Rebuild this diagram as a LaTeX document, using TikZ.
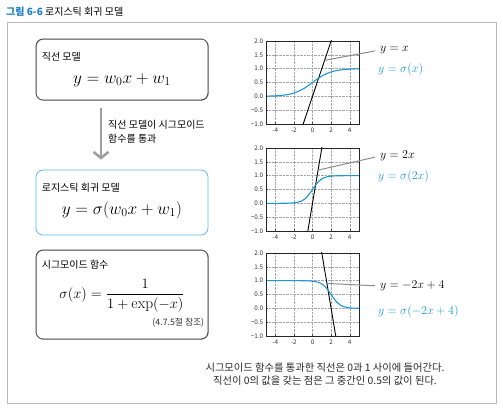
\documentclass[tikz,border=0pt]{standalone}
\usepackage{fontspec}
\usepackage{amsmath}
\newfontfamily\kr{Noto Sans CJK KR}
\usetikzlibrary{arrows.meta, positioning, calc}
\definecolor{sigblue}{RGB}{28,150,214}
\definecolor{boxblue}{RGB}{90,185,230}
\definecolor{figblue}{RGB}{30,125,200}

\begin{document}
\begin{tikzpicture}[x=1pt, y=-1pt, >=Stealth,
    every node/.style={inner sep=0pt, font=\kr\fontsize{10}{12}\selectfont},
    rough/.style={draw=black!80, line width=0.8pt, rounded corners=7pt,
                  postaction={draw=black!55, line width=0.45pt,
                              transform canvas={shift={(0.45pt,-0.35pt)}}}},
    bluebox/.style={draw=boxblue, line width=0.8pt, rounded corners=7pt},
    eq/.style={font=\fontsize{16.5}{19}\selectfont},
    tick/.style={font=\kr\fontsize{6.3}{7}\selectfont, text=black!80},
    lbl/.style={font=\fontsize{13}{15}\selectfont, anchor=west},
    lead/.style={draw=black!45, line width=1pt, shorten >=5pt}]
  \useasboundingbox (0,0) rectangle (503,412);
  \draw[black!28, line width=0.8pt] (7,22) rectangle (496,403);
  \node[anchor=west] (title) at (6,12)
        {{\color{figblue}\bfseries 그림 6-6} 로지스틱 회귀 모델};

  % left column: models
  \node[rough, minimum width=172pt, minimum height=61pt] (linbox) at (122,69.5) {};
  \node[anchor=west] (linhead) at ([shift={(6,18)}]linbox.north west) {직선 모델};
  \node[eq] (lineq) at ([yshift=-10.5]linbox.center) {$y = w_0x + w_1$};

  \node[bluebox, minimum width=172pt, minimum height=65pt] (logbox) at (122,202.5) {};
  \node[anchor=west] (loghead) at ([shift={(6,18)}]logbox.north west) {로지스틱 회귀 모델};
  \node[eq] (logeq) at ([yshift=-7.5]logbox.center) {$y = \sigma(w_0x + w_1)$};

  \node[rough, minimum width=172pt, minimum height=89pt] (sigbox) at (122,294.5) {};
  \node[anchor=west] (sighead) at ([shift={(6,15)}]sigbox.north west) {시그모이드 함수};
  \node[eq, font=\fontsize{15.5}{18}\selectfont] (sigeq) at ([yshift=-1]sigbox.center)
        {$\displaystyle \sigma(x) = \frac{1}{1 + \exp(-x)}$};
  \node[anchor=east, font=\kr\fontsize{8.8}{10}\selectfont, text=black!80] (sigref)
        at ([shift={(-4,-17)}]sigbox.south east) {(4.7.5절 참조)};

  \coordinate (flowtop) at ([xshift=-21,yshift=-8]linbox.south);
  \coordinate (flowend) at ([xshift=-21,yshift=10]logbox.north);
  \draw[black!38, line width=2.6pt, -{Straight Barb[length=6pt, width=15pt]}]
        (flowtop) -- (flowend);
  \node[anchor=north west, align=left, font=\kr\fontsize{10}{13.5}\selectfont] (flowtxt)
        at ([xshift=7,yshift=-12]flowtop) {직선 모델이 시그모이드\\함수를 통과};

  % right column: three plots
  \foreach \n/\py/\k/\b/\lx/\ly/\sy/\ltxt/\stxt in {
      1/124/1/0/1.3/50/70/{$y = x$}/{$y = \sigma(x)$},
      2/231/2/0/0.6/156/176/{$y = 2x$}/{$y = \sigma(2x)$},
      3/336/-2/4/1.55/286/311/{$y = -2x + 4$}/{$y = \sigma(-2x + 4)$}} {
    \begin{scope}[shift={(312.5,\py-27.67)}, x=9.3pt, y=27.67pt]
      \draw[black!35, densely dotted, line width=0.4pt]
            (-5,-1) grid[xstep=2, ystep=0.5] (5,2);
      \foreach \t in {-4,-2,0,2,4} {
        \draw[black!70, line width=0.4pt] (\t,-1) -- (\t,-0.93);
        \node[tick, anchor=north] (xt\n\t) at (\t,-1.12) {\t};
      }
      \foreach \t/\s in {2/2.0, 1.5/1.5, 1/1.0, 0.5/0.5, 0/0.0, -0.5/−0.5, -1/−1.0} {
        \draw[black!70, line width=0.4pt] (-5,\t) -- (-4.75,\t);
        \node[tick, anchor=east] (yt\n) at (-5.3,\t) {\s};
      }
      \begin{scope}
        \clip (-5,-1) rectangle (5,2);
        \draw[black, line width=0.9pt] plot[domain=-5:5, samples=2] (\x, {\k*\x+\b});
      \end{scope}
      \draw[sigblue, line width=1.1pt] plot[domain=-5:5, samples=120, smooth]
            (\x, {1/(1+exp(-max(min(\k*\x+\b,9),-9)))});
      \draw[black!85, line width=0.8pt] (-5,-1) rectangle (5,2);
      \coordinate (on\n) at (\lx, {\k*\lx+\b});
    \end{scope}
    \node[lbl] (lin\n) at (380,\ly) {\ltxt};
    \node[lbl, text=sigblue] (sig\n) at (378,\sy) {\stxt};
    \draw[lead] (on\n) -- (lin\n.west);
  }

  \node[align=center, text=black!85, font=\kr\fontsize{10.3}{12.8}\selectfont] (note) at (325,374)
        {시그모이드 함수를 통과한 직선은 0과 1 사이에 들어간다.\\
         직선이 0의 값을 갖는 점은 그 중간인 0.5의 값이 된다.};
\end{tikzpicture}
\end{document}
